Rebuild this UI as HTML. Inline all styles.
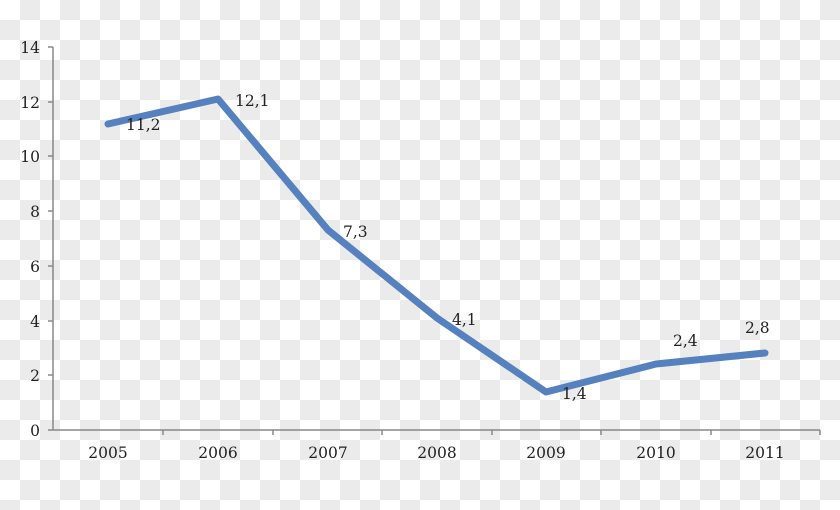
<!DOCTYPE html>
<html><head><style>
html,body{margin:0;padding:0;}
body{width:840px;height:510px;overflow:hidden;
background:repeating-conic-gradient(#ebebeb 0% 25%,#ffffff 0% 50%) 0 0/40px 40px;}
svg{position:absolute;left:0;top:0}
text{font-family:"DejaVu Serif","Liberation Serif",serif;font-size:15.5px;fill:#222}
</style></head><body>
<svg width="840" height="510">
<g stroke="#888" stroke-width="1.5">
<line x1="53" y1="47" x2="53" y2="430"/>
<line x1="48" y1="430" x2="820" y2="430"/>
<line x1="48" y1="47" x2="53" y2="47"/>
<line x1="48" y1="102" x2="53" y2="102"/>
<line x1="48" y1="156" x2="53" y2="156"/>
<line x1="48" y1="211" x2="53" y2="211"/>
<line x1="48" y1="266" x2="53" y2="266"/>
<line x1="48" y1="321" x2="53" y2="321"/>
<line x1="48" y1="375" x2="53" y2="375"/>
<line x1="163" y1="430" x2="163" y2="435"/>
<line x1="273" y1="430" x2="273" y2="435"/>
<line x1="382" y1="430" x2="382" y2="435"/>
<line x1="492" y1="430" x2="492" y2="435"/>
<line x1="601" y1="430" x2="601" y2="435"/>
<line x1="711" y1="430" x2="711" y2="435"/>
<line x1="820" y1="430" x2="820" y2="435"/>
</g>
<g text-anchor="end">
<text x="40" y="53">14</text><text x="40" y="108">12</text><text x="40" y="162">10</text>
<text x="40" y="217">8</text><text x="40" y="272">6</text><text x="40" y="327">4</text>
<text x="40" y="381">2</text><text x="40" y="436">0</text>
</g>
<g text-anchor="middle">
<text x="108" y="458">2005</text><text x="218" y="458">2006</text><text x="328" y="458">2007</text>
<text x="437" y="458">2008</text><text x="546" y="458">2009</text><text x="656" y="458">2010</text><text x="765" y="458">2011</text>
</g>
<polyline points="108,124 218,99 328,230 437,318 546,392 656,364 765,353" fill="none" stroke="#5581bf" stroke-width="7" stroke-linejoin="round" stroke-linecap="round"/>
<text x="126" y="130">11,2</text>
<text x="235" y="106">12,1</text>
<text x="343" y="237">7,3</text>
<text x="452" y="325">4,1</text>
<text x="562" y="399">1,4</text>
<text x="673" y="346">2,4</text>
<text x="745" y="333">2,8</text>
</svg>
</body></html>
